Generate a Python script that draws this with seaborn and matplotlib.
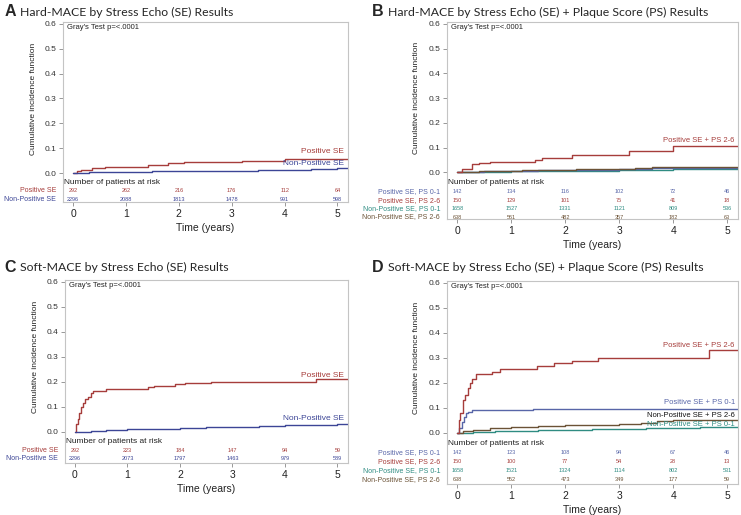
import matplotlib
matplotlib.use("Agg")
import matplotlib.pyplot as plt
import matplotlib.transforms as mtransforms
import numpy as np
import pandas as pd
import seaborn as sns

# ---- colours ----
RED = "#A63D3B"
NAVY = "#3C4596"
BLUE = "#5866A8"
TEAL = "#2F8C82"
BROWN = "#6B5236"

YEARS = [0, 1, 2, 3, 4, 5]

# ---- panel A : Hard-MACE by SE ----
a_pos_t = [0, 0.08, 0.15, 0.35, 0.6, 1.42, 1.8, 2.1, 3.2, 4.0, 5.2]
a_pos_y = [0, 0.010, 0.012, 0.020, 0.023, 0.034, 0.039, 0.044, 0.050, 0.058, 0.058]
a_non_t = [0, 0.3, 0.7, 1.0, 1.5, 2.0, 2.5, 3.0, 3.5, 4.0, 4.5, 5.0, 5.2]
a_non_y = [0, 0.003, 0.005, 0.006, 0.007, 0.008, 0.009, 0.010, 0.012, 0.014, 0.017, 0.019, 0.019]
a_risk_pos = [292, 262, 216, 176, 112, 64]
a_risk_non = [2296, 2088, 1813, 1478, 991, 598]

# ---- panel B : Hard-MACE by SE + PS ----
b_p01_t = [0, 0.2, 0.5, 1.0, 1.5, 2.0, 2.5, 3.0, 3.6, 4.2, 5.2]
b_p01_y = [0, 0.003, 0.005, 0.007, 0.009, 0.010, 0.011, 0.013, 0.016, 0.018, 0.019]
b_p26_t = [0, 0.08, 0.28, 0.41, 0.6, 1.44, 1.57, 2.13, 3.18, 4.0, 5.2]
b_p26_y = [0, 0.012, 0.032, 0.040, 0.042, 0.052, 0.060, 0.072, 0.085, 0.108, 0.108]
b_n01_t = [0, 0.3, 0.7, 1.0, 1.5, 2.0, 2.5, 3.0, 3.5, 4.0, 4.5, 5.2]
b_n01_y = [0, 0.002, 0.003, 0.004, 0.005, 0.006, 0.007, 0.008, 0.010, 0.012, 0.014, 0.015]
b_n26_t = [0, 0.1, 0.4, 0.8, 1.2, 1.7, 2.2, 2.8, 3.3, 3.6, 4.5, 5.2]
b_n26_y = [0, 0.002, 0.005, 0.007, 0.009, 0.011, 0.013, 0.015, 0.017, 0.021, 0.022, 0.022]
b_risk_p01 = [142, 134, 116, 102, 72, 46]
b_risk_p26 = [150, 129, 101, 75, 41, 18]
b_risk_n01 = [1658, 1527, 1331, 1121, 809, 536]
b_risk_n26 = [638, 561, 482, 357, 182, 63]

# ---- panel C : Soft-MACE by SE ----
c_pos_t = [0, 0.02, 0.05, 0.08, 0.12, 0.16, 0.2, 0.25, 0.3, 0.35, 0.6, 1.4, 1.5, 1.9,
           2.1, 2.6, 3.2, 4.6, 5.2]
c_pos_y = [0, 0.030, 0.050, 0.075, 0.098, 0.115, 0.130, 0.140, 0.155, 0.163, 0.172,
           0.180, 0.185, 0.190, 0.194, 0.198, 0.200, 0.210, 0.210]
c_non_t = [0, 0.3, 0.6, 1.0, 1.5, 2.0, 2.5, 3.0, 3.5, 4.0, 4.5, 5.0, 5.2]
c_non_y = [0, 0.004, 0.008, 0.011, 0.013, 0.016, 0.018, 0.020, 0.023, 0.026, 0.029, 0.033, 0.033]
c_risk_pos = [292, 223, 184, 147, 94, 59]
c_risk_non = [2296, 2073, 1797, 1463, 979, 589]

# ---- panel D : Soft-MACE by SE + PS ----
d_p01_t = [0, 0.04, 0.08, 0.12, 0.16, 0.2, 0.28, 1.4, 5.2]
d_p01_y = [0, 0.020, 0.045, 0.065, 0.078, 0.082, 0.090, 0.097, 0.097]
d_p26_t = [0, 0.03, 0.06, 0.1, 0.15, 0.19, 0.24, 0.28, 0.34, 0.6, 0.65, 0.8, 1.4,
           1.47, 1.8, 2.12, 2.6, 4.67, 5.2]
d_p26_y = [0, 0.050, 0.080, 0.130, 0.150, 0.180, 0.200, 0.215, 0.235, 0.235, 0.245,
           0.255, 0.255, 0.268, 0.278, 0.288, 0.300, 0.333, 0.333]
d_n01_t = [0, 0.3, 0.7, 1.0, 1.5, 2.0, 2.5, 3.0, 3.5, 4.0, 4.5, 5.0, 5.2]
d_n01_y = [0, 0.003, 0.006, 0.008, 0.010, 0.012, 0.014, 0.016, 0.018, 0.020, 0.022, 0.023, 0.023]
d_n26_t = [0, 0.1, 0.3, 0.6, 1.0, 1.5, 2.0, 2.5, 3.0, 3.4, 3.7, 4.0, 5.2]
d_n26_y = [0, 0.006, 0.013, 0.020, 0.025, 0.028, 0.031, 0.033, 0.035, 0.040, 0.046, 0.051, 0.051]
d_risk_p01 = [142, 123, 108, 94, 67, 46]
d_risk_p26 = [150, 100, 77, 54, 28, 13]
d_risk_n01 = [1658, 1521, 1324, 1114, 802, 531]
d_risk_n26 = [638, 552, 473, 349, 177, 59]

sns.set_theme(style="white")
plt.rcParams["font.family"] = ["Liberation Sans", "DejaVu Sans"]

fig = plt.figure(figsize=(7.41, 5.15), dpi=100)

FRAME = "#C4C4C4"


def make_axes(rect, ybottom):
    ax = fig.add_axes(rect)
    ax.set_xlim(-0.19, 5.2)
    ax.set_ylim(ybottom, 0.607)
    for s in ax.spines.values():
        s.set_color(FRAME)
        s.set_linewidth(0.8)
    ax.set_yticks([0, 0.1, 0.2, 0.3, 0.4, 0.5, 0.6])
    ax.set_yticklabels(["0.0", "0.1", "0.2", "0.3", "0.4", "0.5", "0.6"])
    ax.set_xticks(YEARS)
    ax.tick_params(axis="y", left=True, length=3, width=0.6, color="#888888",
                   labelsize=6, labelcolor="#333333", pad=1.5)
    ax.tick_params(axis="x", bottom=True, length=3, width=0.6, color="#888888",
                   labelsize=7.5, labelcolor="#222222", pad=2)
    trans = mtransforms.blended_transform_factory(ax.transAxes, ax.transData)
    ax.text(-0.105, 0.3, "Cumulative incidence function", transform=trans,
            rotation=90, ha="center", va="center", fontsize=6, color="#222222")
    ax.text(0.014, 0.988, "Gray's Test p=<.0001", transform=ax.transAxes,
            ha="left", va="top", fontsize=5.5, color="#222222")
    return ax


def draw_curve(ax, t, y, color):
    df = pd.DataFrame({"t": t, "cif": y})
    sns.lineplot(data=df, x="t", y="cif", ax=ax, color=color, lw=1.0,
                 drawstyle="steps-post", estimator=None, errorbar=None)
    ax.set_xlabel("Time (years)", fontsize=7.5, color="#222222", labelpad=3)
    ax.set_ylabel("")


def risk_table(ax, ys, rows, header_y):
    trans = mtransforms.blended_transform_factory(ax.transAxes, ax.transData)
    ax.text(0.004, header_y, "Number of patients at risk", transform=trans,
            ha="left", va="center", fontsize=6, color="#222222")
    for yv, (label, counts, color) in zip(ys, rows):
        ax.text(-0.024, yv, label, transform=trans, ha="right", va="center",
                fontsize=5, color=color)
        for x, n in zip(YEARS, counts):
            ax.text(x, yv, str(n), ha="center", va="center", fontsize=4,
                    color=color)


def title(x, y, letter, text):
    fig.text(x, y, letter, fontsize=11.5, fontweight="bold", ha="left",
             va="center", family=["Liberation Sans", "DejaVu Sans"])
    fig.text(x + 0.021, y, text, fontsize=8.8, ha="left", va="center",
             family=["Lato", "DejaVu Sans"])


# ---- Panel A ----
axA = make_axes([63 / 741, 1 - 202 / 515, 285 / 741, 180 / 515], -0.116)
draw_curve(axA, a_pos_t, a_pos_y, RED)
draw_curve(axA, a_non_t, a_non_y, NAVY)
axA.text(5.12, 0.085, "Positive SE", ha="right", va="center", fontsize=6, color=RED)
axA.text(5.12, 0.038, "Non-Positive SE", ha="right", va="center", fontsize=6, color=NAVY)
risk_table(axA, [-0.071, -0.104],
           [("Positive SE", a_risk_pos, RED), ("Non-Positive SE", a_risk_non, NAVY)],
           -0.036)
title(0.006, 1 - 12 / 515, "A", "Hard-MACE by Stress Echo (SE) Results")

# ---- Panel B ----
axB = make_axes([447 / 741, 1 - 219 / 515, 291 / 741, 197 / 515], -0.188)
draw_curve(axB, b_n01_t, b_n01_y, TEAL)
draw_curve(axB, b_p01_t, b_p01_y, BLUE)
draw_curve(axB, b_n26_t, b_n26_y, BROWN)
draw_curve(axB, b_p26_t, b_p26_y, RED)
axB.text(5.14, 0.13, "Positive SE + PS 2-6", ha="right", va="center", fontsize=5.5, color=RED)
risk_table(axB, [-0.077, -0.112, -0.146, -0.180],
           [("Positive SE, PS 0-1", b_risk_p01, BLUE),
            ("Positive SE, PS 2-6", b_risk_p26, RED),
            ("Non-Positive SE, PS 0-1", b_risk_n01, TEAL),
            ("Non-Positive SE, PS 2-6", b_risk_n26, BROWN)],
           -0.04)
title(0.502, 1 - 12 / 515, "B", "Hard-MACE by Stress Echo (SE) + Plaque Score (PS) Results")

# ---- Panel C ----
axC = make_axes([65 / 741, 1 - 463 / 515, 283 / 741, 183 / 515], -0.124)
draw_curve(axC, c_pos_t, c_pos_y, RED)
draw_curve(axC, c_non_t, c_non_y, NAVY)
axC.text(5.12, 0.225, "Positive SE", ha="right", va="center", fontsize=6, color=RED)
axC.text(5.12, 0.055, "Non-Positive SE", ha="right", va="center", fontsize=6, color=NAVY)
risk_table(axC, [-0.076, -0.108],
           [("Positive SE", c_risk_pos, RED), ("Non-Positive SE", c_risk_non, NAVY)],
           -0.04)
title(0.006, 1 - 267 / 515, "C", "Soft-MACE by Stress Echo (SE) Results")

# ---- Panel D ----
axD = make_axes([447 / 741, 1 - 484 / 515, 291 / 741, 203 / 515], -0.204)
draw_curve(axD, d_n01_t, d_n01_y, TEAL)
draw_curve(axD, d_n26_t, d_n26_y, BROWN)
draw_curve(axD, d_p01_t, d_p01_y, BLUE)
draw_curve(axD, d_p26_t, d_p26_y, RED)
axD.text(5.14, 0.35, "Positive SE + PS 2-6", ha="right", va="center", fontsize=5.5, color=RED)
axD.text(5.14, 0.12, "Positive SE + PS 0-1", ha="right", va="center", fontsize=5.5, color=BLUE)
axD.text(5.14, 0.07, "Non-Positive SE + PS 2-6", ha="right", va="center", fontsize=5.5, color="#111111")
axD.text(5.14, 0.034, "Non-Positive SE + PS 0-1", ha="right", va="center", fontsize=5.5, color=TEAL)
risk_table(axD, [-0.080, -0.116, -0.152, -0.186],
           [("Positive SE, PS 0-1", d_risk_p01, BLUE),
            ("Positive SE, PS 2-6", d_risk_p26, RED),
            ("Non-Positive SE, PS 0-1", d_risk_n01, TEAL),
            ("Non-Positive SE, PS 2-6", d_risk_n26, BROWN)],
           -0.044)
title(0.502, 1 - 267 / 515, "D", "Soft-MACE by Stress Echo (SE) + Plaque Score (PS) Results")

fig.savefig("out.png", dpi=100, facecolor="white")
